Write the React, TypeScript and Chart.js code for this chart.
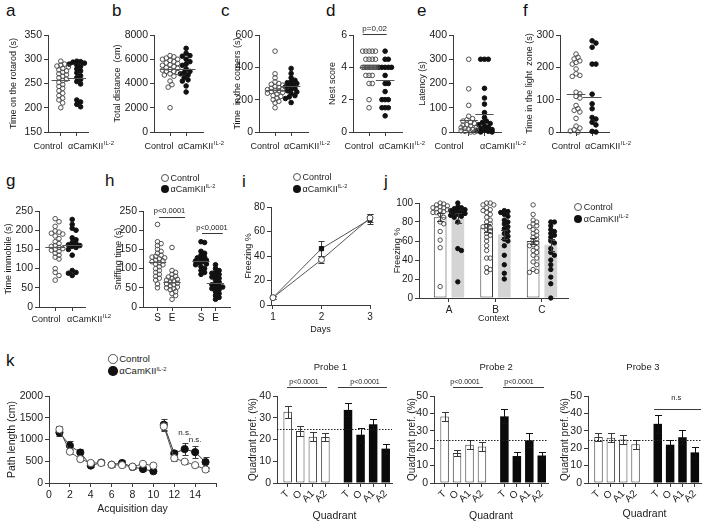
import React, { useEffect, useRef } from 'react';
import { Chart, registerables } from 'chart.js';
Chart.register(...registerables);

const FONT = "'Liberation Sans', Arial, Helvetica, sans-serif";
const AX = '#3a3a3a';
const TXT = '#1a1a1a';
const OPEN = '#505050';

// ---------- data ----------
const groupNames = ['Control', 'αCamKII'];
const koSup = 'IL-2';
const koSupG = 'IL2';

const rotarodControl = [296, 290, 288, 286, 284, 281, 278, 276, 273, 270, 268, 265, 262, 259, 256, 252, 248, 244, 240, 235, 230, 225, 220, 216, 210, 200];
const rotarodKO = [296, 295, 294, 292, 290, 288, 285, 280, 276, 272, 266, 262, 258, 254, 249, 216, 212, 207, 202];
const rotarodMeans = [258, 262];

const distControl = [6300, 6200, 6100, 6000, 6000, 5900, 5800, 5700, 5650, 5550, 5500, 5400, 5300, 5250, 5150, 5100, 5000, 5000, 4900, 4800, 4700, 4600, 4200, 3900, 3700, 2000];
const distKO = [6900, 6500, 6300, 6250, 6000, 5800, 5600, 5500, 5200, 5000, 4900, 4800, 4700, 4500, 4300, 4200, 3800, 3300];
const distMeans = [5200, 5200];

const cornersControl = [500, 360, 335, 310, 300, 295, 290, 280, 275, 270, 265, 262, 258, 255, 250, 245, 240, 235, 225, 220, 210, 200, 190, 180, 150];
const cornersKO = [393, 362, 335, 320, 310, 305, 300, 290, 285, 280, 270, 263, 255, 248, 238, 225, 217, 207, 182];
const cornersMeans = [262, 282];

const nestControl = [5, 5, 5, 5, 5, 4.5, 4.5, 4.5, 4.5, 4, 4, 4, 4, 4, 4, 4, 4, 4, 4, 3.5, 3.5, 3.5, 3, 3, 2, 1.5];
const nestKO = [5, 4.5, 4.5, 4, 4, 4, 4, 4, 3.5, 3, 3, 2.5, 2, 2, 2, 1.5, 1.5, 1.5, 1];
const nestMeans = [4.0, 3.2];

const latencyControl = [300, 178, 110, 65, 55, 50, 45, 40, 35, 30, 28, 25, 20, 18, 15, 12, 10, 8, 5, 3, 0, 0];
const latencyKO = [300, 300, 300, 180, 140, 115, 80, 60, 45, 40, 35, 30, 25, 20, 15, 10, 8, 5, 3, 0, 0];
const latencyMeans = [50, 76];

const lightControl = [241, 231, 226, 220, 215, 210, 195, 180, 175, 172, 123, 118, 110, 105, 82, 72, 67, 62, 42, 18, 12, 7, 3, 0];
const lightKO = [282, 275, 262, 210, 210, 117, 87, 72, 45, 40, 30, 22, 2, 0];
const lightMeans = [118, 108];

const immobileControl = [230, 222, 210, 198, 195, 192, 190, 185, 178, 170, 165, 160, 158, 155, 152, 150, 148, 145, 140, 135, 130, 125, 100, 90, 82, 70];
const immobileKO = [228, 215, 205, 200, 180, 175, 168, 165, 162, 160, 158, 155, 150, 135, 95, 90, 88, 82];
const immobileMeans = [155, 162];

const sniffLabels = ['S', 'E', 'S', 'E'];
const sniffControlS = [215, 170, 165, 160, 150, 145, 140, 135, 132, 130, 128, 125, 122, 120, 118, 115, 112, 110, 105, 100, 95, 90, 85, 80, 75, 70, 60, 50];
const sniffControlE = [155, 95, 90, 85, 80, 78, 75, 72, 70, 68, 65, 62, 60, 58, 55, 52, 50, 48, 45, 40, 35, 30, 20];
const sniffKOS = [170, 168, 145, 140, 135, 130, 128, 125, 122, 120, 118, 115, 112, 110, 105, 100, 95, 90, 85];
const sniffKOE = [110, 100, 95, 90, 88, 85, 80, 78, 75, 70, 65, 60, 58, 55, 52, 50, 48, 45, 40, 35, 30, 25, 20];
const sniffMeans = [118, 65, 120, 62];

const fearDays = [1, 2, 3];
const fearControl = [6, 37, 71];
const fearControlErr = [1, 3, 3];
const fearKO = [6, 46, 70];
const fearKOErr = [1, 6, 4];

const contexts = ['A', 'B', 'C'];
const ctxControlMean = [85, 74, 60];
const ctxControlErr = [4, 4, 3.5];
const ctxKOMean = [84, 67, 56];
const ctxKOErr = [5, 5, 6];
const ctxControlA = [100, 99, 98, 97, 96, 95, 95, 94, 93, 92, 91, 90, 90, 88, 85, 80, 78, 70, 61, 53, 12];
const ctxKOA = [100, 96, 95, 94, 93, 92, 92, 90, 90, 89, 88, 87, 86, 85, 80, 52, 50, 17];
const ctxControlB = [100, 100, 98, 98, 95, 93, 92, 90, 88, 85, 82, 80, 78, 76, 75, 74, 72, 70, 68, 66, 64, 60, 55, 50, 42, 42, 32, 30, 27];
const ctxKOB = [92, 91, 90, 88, 86, 82, 80, 78, 75, 73, 70, 68, 65, 62, 60, 55, 45, 35, 26, 20];
const ctxControlC = [98, 88, 82, 80, 78, 76, 75, 72, 70, 68, 66, 64, 62, 60, 58, 56, 55, 53, 50, 48, 45, 42, 38, 35, 30, 28, 27];
const ctxKOC = [80, 80, 76, 72, 70, 68, 66, 64, 60, 58, 52, 48, 45, 40, 35, 30, 22, 15, 0];

const acqDays = [1, 2, 3, 4, 5, 6, 7, 8, 9, 10, 11, 12, 13, 14, 15];
const acqBlocks = [[0, 5], [5, 10], [10, 15]];
const pathControl = [1230, 720, 550, 460, 460, 420, 410, 375, 440, 400, 1300, 570, 490, 410, 310];
const pathControlErr = [70, 60, 50, 40, 40, 40, 40, 40, 50, 40, 100, 60, 50, 40, 30];
const pathKO = [1160, 860, 700, 400, 470, 420, 460, 370, 320, 270, 1340, 680, 780, 710, 480];
const pathKOErr = [70, 110, 80, 40, 50, 50, 60, 40, 40, 30, 120, 80, 140, 130, 110];

const quadrants = ['T', 'O', 'A1', 'A2'];
const probe1Control = [32.8, 23.9, 21.3, 21.2];
const probe1ControlErr = [2.8, 2.5, 2.2, 2.0];
const probe1KO = [33.6, 22.2, 27.0, 15.8];
const probe1KOErr = [3.0, 3.2, 2.5, 2.0];
const probe2Control = [38.2, 17.2, 22.0, 21.0];
const probe2ControlErr = [2.5, 1.8, 2.5, 2.5];
const probe2KO = [38.3, 15.5, 24.5, 15.8];
const probe2KOErr = [4.0, 2.5, 4.0, 2.0];
const probe3Control = [26.5, 26.0, 25.0, 22.2];
const probe3ControlErr = [2.5, 2.5, 2.5, 2.5];
const probe3KO = [34.0, 22.0, 26.3, 17.6];
const probe3KOErr = [5.0, 3.0, 4.0, 3.0];

// ---------- helpers ----------
type Frame = { x0: number; x1: number; y0: number; y1: number; left: number; top: number; right: number; bottom: number };
type Ann = {
  lines?: { x0: number; x1: number; y0: number; y1: number; dash?: number[]; color?: string; width?: number }[];
  texts?: { x: number; y: number; text: string; size: number }[];
};

function swarm(values: number[], pxPerY: number, d: number, maxHalf: number): number[] {
  const idx = values.map((_, i) => i).sort((a, b) => values[b] - values[a]);
  const placed: { x: number; y: number }[] = [];
  const out = new Array(values.length).fill(0);
  const n = 2 * Math.ceil(maxHalf / (d / 2)) + 1;
  for (const i of idx) {
    const y = values[i] * pxPerY;
    let best = 0;
    let bestScore = -Infinity;
    for (let k = 0; k < n; k++) {
      const step = Math.ceil(k / 2) * d * 0.5;
      const cand = k === 0 ? 0 : k % 2 === 1 ? step : -step;
      if (Math.abs(cand) > maxHalf + 1e-6) continue;
      let minD = Infinity;
      for (const p of placed) minD = Math.min(minD, Math.hypot(p.x - cand, p.y - y));
      if (minD >= d * 0.98) {
        best = cand;
        break;
      }
      if (minD > bestScore) {
        bestScore = minD;
        best = cand;
      }
    }
    placed.push({ x: best, y });
    out[i] = best;
  }
  return out;
}

function drawSupText(ctx: any, cx: number, cy: number, main: string, sup: string, size: number) {
  const supSize = size * 0.65;
  ctx.font = `${size}px ${FONT}`;
  const w1 = ctx.measureText(main).width;
  ctx.font = `${supSize}px ${FONT}`;
  const w2 = sup ? ctx.measureText(sup).width + 0.5 : 0;
  const x = cx - (w1 + w2) / 2;
  ctx.textAlign = 'left';
  ctx.textBaseline = 'middle';
  ctx.fillStyle = TXT;
  ctx.font = `${size}px ${FONT}`;
  ctx.fillText(main, x, cy);
  if (sup) {
    ctx.font = `${supSize}px ${FONT}`;
    ctx.fillText(sup, x + w1 + 0.5, cy - size * 0.35);
  }
}

function catLabels(items: { dx: number; text: string; sup?: string }[], dy: number, size: number) {
  return {
    id: 'catlabels',
    afterDraw(chart: any) {
      const { ctx, chartArea } = chart;
      ctx.save();
      for (const it of items) drawSupText(ctx, chartArea.left + it.dx, chartArea.bottom + dy, it.text, it.sup || '', size);
      ctx.restore();
    },
  };
}

function annot(a: Ann) {
  return {
    id: 'annot',
    afterDatasetsDraw(chart: any) {
      const { ctx } = chart;
      const x = chart.scales.x;
      const y = chart.scales.y;
      ctx.save();
      for (const l of a.lines || []) {
        ctx.beginPath();
        ctx.setLineDash(l.dash || []);
        ctx.strokeStyle = l.color || AX;
        ctx.lineWidth = l.width || 1;
        ctx.moveTo(x.getPixelForValue(l.x0), Math.round(y.getPixelForValue(l.y0)) + 0.5);
        ctx.lineTo(x.getPixelForValue(l.x1), Math.round(y.getPixelForValue(l.y1)) + 0.5);
        ctx.stroke();
      }
      ctx.setLineDash([]);
      for (const t of a.texts || []) {
        ctx.font = `${t.size}px ${FONT}`;
        ctx.fillStyle = TXT;
        ctx.textAlign = 'center';
        ctx.textBaseline = 'middle';
        ctx.fillText(t.text, x.getPixelForValue(t.x), y.getPixelForValue(t.y));
      }
      ctx.restore();
    },
  };
}

function drawErr(chart: any, barPass: boolean) {
  const { ctx } = chart;
  const ys = chart.scales.y;
  chart.data.datasets.forEach((ds: any, i: number) => {
    if (!ds.errors) return;
    const isBar = (ds.type || chart.config.type) === 'bar';
    if (isBar !== barPass) return;
    const meta = chart.getDatasetMeta(i);
    ctx.save();
    ctx.strokeStyle = ds.errorColor || AX;
    ctx.lineWidth = 1;
    const cap = ds.errorCap || 3;
    meta.data.forEach((el: any, j: number) => {
      const raw = ds.data[j];
      const v = typeof raw === 'number' ? raw : raw.y;
      const e = ds.errors[j];
      const x = Math.round(el.x) + 0.5;
      const yt = Math.round(ys.getPixelForValue(v + e)) + 0.5;
      const yb = Math.round(ys.getPixelForValue(v - e)) + 0.5;
      ctx.beginPath();
      ctx.moveTo(x, yt);
      ctx.lineTo(x, yb);
      ctx.moveTo(x - cap, yt);
      ctx.lineTo(x + cap, yt);
      ctx.moveTo(x - cap, yb);
      ctx.lineTo(x + cap, yb);
      ctx.stroke();
    });
    ctx.restore();
  });
}

const errorBars = {
  id: 'errbars',
  beforeDatasetsDraw(chart: any) {
    drawErr(chart, false);
  },
  afterDatasetsDraw(chart: any) {
    drawErr(chart, true);
  },
};

function yScale(f: Frame, min: number, max: number, step: number, title: string, tsize: number, titleSize: number) {
  return {
    type: 'linear',
    min,
    max,
    ticks: { stepSize: step, color: TXT, font: { family: FONT, size: tsize }, padding: 2, callback: (v: any) => String(v) },
    grid: { drawOnChartArea: false, tickLength: 4, color: AX, tickColor: AX },
    border: { color: AX, width: 1 },
    title: { display: true, text: title, color: TXT, font: { family: FONT, size: titleSize }, padding: 0 },
    afterFit: (s: any) => {
      s.width = f.x0 - f.left;
    },
  };
}

function xScale(
  f: Frame,
  min: number,
  max: number,
  tickVals: number[],
  tickLabels: string[],
  tsize: number,
  opts: { title?: string; titleSize?: number; rot?: number; pad?: number; tickLen?: number } = {}
) {
  return {
    type: 'linear',
    min,
    max,
    offset: false,
    afterBuildTicks: (s: any) => {
      s.ticks = tickVals.map((v) => ({ value: v }));
    },
    ticks: {
      color: TXT,
      font: { family: FONT, size: tsize },
      padding: opts.pad ?? 2,
      autoSkip: false,
      maxRotation: opts.rot ?? 0,
      minRotation: opts.rot ?? 0,
      callback: (v: any) => {
        const k = tickVals.findIndex((t) => Math.abs(t - Number(v)) < 1e-6);
        return k >= 0 ? tickLabels[k] : '';
      },
    },
    grid: { drawOnChartArea: false, tickLength: opts.tickLen ?? 4, color: AX, tickColor: AX, offset: false },
    border: { color: AX, width: 1 },
    title: opts.title
      ? { display: true, text: opts.title, color: TXT, font: { family: FONT, size: opts.titleSize || 10 }, padding: 0 }
      : { display: false },
    afterFit: (s: any) => {
      s.height = f.bottom - f.y1;
    },
  };
}

function baseOptions(f: Frame) {
  return {
    responsive: false,
    animation: false,
    events: [],
    devicePixelRatio: 1,
    layout: { autoPadding: false, padding: { left: 0, top: f.y0 - f.top, right: f.right - f.x1, bottom: 0 } },
    plugins: { legend: { display: false }, tooltip: { enabled: false }, title: { display: false } },
  };
}

type Group = { values: number[]; x: number; filled: boolean };
function dotConfig(
  f: Frame,
  p: {
    ymin: number; ymax: number; step: number; title: string; xmin: number; xmax: number;
    groups: Group[]; means: number[]; meanHalf: number; tickVals: number[]; tickLabels: string[];
    r: number; d: number; maxHalf: number; tsize: number; xsize: number; titleSize: number; ann?: Ann; pad?: number;
    cats?: { dx: number; text: string; sup?: string }[]; catDy?: number; catSize?: number;
  }
) {
  const pxPerY = (f.y1 - f.y0) / (p.ymax - p.ymin);
  const pxPerX = (f.x1 - f.x0) / (p.xmax - p.xmin);
  const datasets = p.groups.map((g) => {
    const off = swarm(g.values, pxPerY, p.d, p.maxHalf);
    return {
      data: g.values.map((v, i) => ({ x: g.x + off[i] / pxPerX, y: v })),
      pointRadius: p.r,
      pointBorderWidth: 1,
      pointBackgroundColor: g.filled ? '#111' : 'rgba(255,255,255,0)',
      pointBorderColor: g.filled ? '#111' : OPEN,
      clip: false,
    };
  });
  const meanLines = p.groups.map((g, i) => ({
    x0: g.x - p.meanHalf, x1: g.x + p.meanHalf, y0: p.means[i], y1: p.means[i], color: '#555',
  }));
  const ann: Ann = { lines: [...meanLines, ...((p.ann && p.ann.lines) || [])], texts: (p.ann && p.ann.texts) || [] };
  const plugins: any[] = [annot(ann)];
  if (p.cats) plugins.push(catLabels(p.cats, p.catDy || 14, p.catSize || 9));
  return {
    type: 'scatter',
    data: { datasets },
    options: {
      ...baseOptions(f),
      scales: {
        x: xScale(f, p.xmin, p.xmax, p.tickVals, p.tickLabels, p.xsize, { pad: p.pad ?? 4 }),
        y: yScale(f, p.ymin, p.ymax, p.step, p.title, p.tsize, p.titleSize),
      },
    },
    plugins,
  };
}

function probeConfig(f: Frame, ctl: number[], ctlErr: number[], ko: number[], koErr: number[], ymax: number, ann: Ann) {
  const ctlX = quadrants.map((_, i) => i);
  const koX = quadrants.map((_, i) => i + 4.8);
  return {
    type: 'bar',
    data: {
      datasets: [
        {
          data: ctl.map((v, i) => ({ x: ctlX[i], y: v })),
          backgroundColor: '#ffffff', borderColor: AX, borderWidth: 1, borderSkipped: false,
          grouped: false, maxBarThickness: 8.5, errors: ctlErr, errorCap: 3.5,
        },
        {
          data: ko.map((v, i) => ({ x: koX[i], y: v })),
          backgroundColor: '#0a0a0a', borderColor: '#0a0a0a', borderWidth: 0,
          grouped: false, maxBarThickness: 8.5, errors: koErr, errorCap: 3.5, errorColor: '#111',
        },
      ],
    },
    options: {
      ...baseOptions(f),
      scales: {
        x: xScale(f, -0.85, 8.3, [...ctlX, ...koX], [...quadrants, ...quadrants], 10, { title: 'Quadrant', titleSize: 10.5, rot: 45, pad: 1 }),
        y: yScale(f, 0, ymax, 10, 'Quadrant pref. (%)', 10.5, 10),
      },
    },
    plugins: [errorBars, annot(ann)],
  };
}

// ---------- frames ----------
const FA: Frame = { x0: 48, x1: 88, y0: 35, y1: 132, left: 8, top: 22, right: 114, bottom: 158 };
const FB: Frame = { x0: 154, x1: 203, y0: 35, y1: 132, left: 112, top: 22, right: 228, bottom: 158 };
const FC: Frame = { x0: 259, x1: 308, y0: 35, y1: 132, left: 232, top: 22, right: 334, bottom: 158 };
const FD: Frame = { x0: 353, x1: 402, y0: 35, y1: 132, left: 327, top: 22, right: 430, bottom: 158 };
const FE: Frame = { x0: 453, x1: 501, y0: 35, y1: 132, left: 417, top: 22, right: 530, bottom: 158 };
const FF: Frame = { x0: 560, x1: 609, y0: 35, y1: 132, left: 524, top: 22, right: 635, bottom: 158 };
const FG: Frame = { x0: 39, x1: 85, y0: 211, y1: 307, left: 3, top: 198, right: 112, bottom: 326 };
const FH: Frame = { x0: 143, x1: 230, y0: 211, y1: 307, left: 113, top: 198, right: 240, bottom: 322 };
const FI: Frame = { x0: 271, x1: 370, y0: 207, y1: 305, left: 243, top: 197, right: 380, bottom: 335 };
const FJ: Frame = { x0: 419, x1: 568, y0: 203, y1: 298, left: 392, top: 193, right: 578, bottom: 324 };
const FK: Frame = { x0: 49, x1: 216, y0: 396, y1: 483, left: 6, top: 380, right: 226, bottom: 515 };
const FP1: Frame = { x0: 277, x1: 392, y0: 396, y1: 483, left: 247, top: 358, right: 400, bottom: 522 };
const FP2: Frame = { x0: 434, x1: 548, y0: 396, y1: 483, left: 406, top: 358, right: 556, bottom: 522 };
const FP3: Frame = { x0: 588, x1: 701, y0: 396, y1: 483, left: 559, top: 358, right: 706, bottom: 520 };

// ---------- chart configs ----------
const catPair = (dxC: number, dxK: number, sup: string) => [
  { dx: dxC, text: groupNames[0] },
  { dx: dxK, text: groupNames[1], sup },
];

const row1Common = {
  xmin: 0, xmax: 3.05, meanHalf: 0.58, tickVals: [1, 2], tickLabels: ['', ''], r: 2.3, d: 3.8, maxHalf: 9,
  tsize: 10.5, xsize: 9, titleSize: 9, catDy: 14.5, catSize: 9,
};

function cfgA() {
  return dotConfig(FA, { ...row1Common, xmin: 0.2, xmax: 2.7, ymin: 150, ymax: 350, step: 50, title: 'Time on the rotarod (s)',
    cats: catPair(0, 43, koSup),
    groups: [{ values: rotarodControl, x: 1, filled: false }, { values: rotarodKO, x: 2, filled: true }], means: rotarodMeans });
}
function cfgB() {
  return dotConfig(FB, { ...row1Common, ymin: 0, ymax: 8000, step: 2000, title: 'Total distance  (cm)',
    cats: catPair(5, 47, koSup),
    groups: [{ values: distControl, x: 1, filled: false }, { values: distKO, x: 2, filled: true }], means: distMeans });
}
function cfgC() {
  return dotConfig(FC, { ...row1Common, ymin: 0, ymax: 600, step: 200, title: 'Time  in the corners (s)',
    cats: catPair(6, 48, koSup),
    groups: [{ values: cornersControl, x: 1, filled: false }, { values: cornersKO, x: 2, filled: true }], means: cornersMeans });
}
function cfgD() {
  return dotConfig(FD, { ...row1Common, d: 3.2, ymin: 0, ymax: 6, step: 2, title: 'Nest score',
    cats: catPair(6, 49, koSup),
    groups: [{ values: nestControl, x: 1, filled: false }, { values: nestKO, x: 2, filled: true }], means: nestMeans,
    ann: { lines: [{ x0: 0.6, x1: 2.1, y0: 6.06, y1: 6.06 }], texts: [{ x: 1.35, y: 6.4, text: 'p=0,02', size: 8 }] } });
}
function cfgE() {
  return dotConfig(FE, { ...row1Common, ymin: 0, ymax: 400, step: 100, title: 'Latency (s)',
    cats: catPair(-4, 50, koSup),
    groups: [{ values: latencyControl, x: 1, filled: false }, { values: latencyKO, x: 2, filled: true }], means: latencyMeans });
}
function cfgF() {
  return dotConfig(FF, { ...row1Common, ymin: 0, ymax: 300, step: 100, title: 'Time in the light  zone (s)',
    cats: catPair(6, 48, koSup),
    groups: [{ values: lightControl, x: 1, filled: false }, { values: lightKO, x: 2, filled: true }], means: lightMeans });
}
function cfgG() {
  return dotConfig(FG, { ...row1Common, xmin: 0.05, xmax: 2.75, ymin: 0, ymax: 250, step: 50, title: 'Time immobile (s)',
    cats: catPair(7, 50, koSupG), catDy: 12.5,
    groups: [{ values: immobileControl, x: 1, filled: false }, { values: immobileKO, x: 2, filled: true }], means: immobileMeans });
}
function cfgH() {
  return dotConfig(FH, { ...row1Common, xmin: 0, xmax: 6, ymin: 0, ymax: 250, step: 50, title: 'Sniffing time (s)',
    tickVals: [1, 2, 4, 5], tickLabels: sniffLabels, xsize: 10, pad: 1, meanHalf: 0.6, r: 2.3, d: 3.6, maxHalf: 8,
    groups: [
      { values: sniffControlS, x: 1, filled: false },
      { values: sniffControlE, x: 2, filled: false },
      { values: sniffKOS, x: 4, filled: true },
      { values: sniffKOE, x: 5, filled: true },
    ],
    means: sniffMeans,
    ann: {
      lines: [{ x0: 1.1, x1: 2.9, y0: 234, y1: 234 }, { x0: 4.07, x1: 5.5, y0: 193, y1: 193 }],
      texts: [{ x: 1.83, y: 251, text: 'p<0,0001', size: 7.5 }, { x: 4.76, y: 205, text: 'p<0,0001', size: 7.5 }],
    } });
}

function cfgI() {
  return {
    type: 'scatter',
    data: {
      datasets: [
        {
          data: fearDays.map((d, i) => ({ x: d, y: fearControl[i] })), showLine: true, borderColor: '#555', borderWidth: 1,
          pointRadius: 3, pointBackgroundColor: '#fff', pointBorderColor: '#444', pointBorderWidth: 1, errors: fearControlErr, errorCap: 3, clip: false,
        },
        {
          data: fearDays.map((d, i) => ({ x: d, y: fearKO[i] })), showLine: true, borderColor: '#555', borderWidth: 1,
          pointRadius: 3, pointStyle: 'rect', pointBackgroundColor: '#111', pointBorderColor: '#111', pointBorderWidth: 1, errors: fearKOErr, errorCap: 3, clip: false,
        },
      ],
    },
    options: {
      ...baseOptions(FI),
      scales: {
        x: xScale(FI, 0.96, 3, fearDays, fearDays.map(String), 10, { title: 'Days', titleSize: 9 }),
        y: yScale(FI, 0, 80, 20, 'Freezing %', 10, 9),
      },
    },
    plugins: [errorBars],
  };
}

function cfgJ() {
  const off = 0.19;
  const pxPerY = (FJ.y1 - FJ.y0) / 100;
  const pxPerX = (FJ.x1 - FJ.x0) / (3.56 - 0.355);
  const dots = (vals: number[], cx: number) => {
    const o = swarm(vals, pxPerY, 3.6, 8);
    return vals.map((v, i) => ({ x: cx + o[i] / pxPerX, y: v }));
  };
  const ctlDots = [ctxControlA, ctxControlB, ctxControlC].flatMap((vals, k) => dots(vals, k + 1 - off));
  const koDots = [ctxKOA, ctxKOB, ctxKOC].flatMap((vals, k) => dots(vals, k + 1 + off));
  return {
    type: 'bar',
    data: {
      datasets: [
        { type: 'scatter', data: ctlDots, pointRadius: 2.2, pointBorderWidth: 1, pointBackgroundColor: 'rgba(255,255,255,0)', pointBorderColor: OPEN, order: 0, clip: false },
        { type: 'scatter', data: koDots, pointRadius: 2.2, pointBorderWidth: 1, pointBackgroundColor: '#111', pointBorderColor: '#111', order: 0, clip: false },
        {
          data: ctxControlMean.map((v, k) => ({ x: k + 1 - off, y: v })), backgroundColor: '#ffffff', borderColor: AX, borderWidth: 1,
          borderSkipped: false, grouped: false, maxBarThickness: 17, order: 1, errors: ctxControlErr, errorCap: 3.5,
        },
        {
          data: ctxKOMean.map((v, k) => ({ x: k + 1 + off, y: v })), backgroundColor: '#d4d4d4', borderWidth: 0,
          grouped: false, maxBarThickness: 17, order: 1, errors: ctxKOErr, errorCap: 3.5,
        },
      ],
    },
    options: {
      ...baseOptions(FJ),
      scales: {
        x: xScale(FJ, 0.355, 3.56, [1, 2, 3], contexts, 10, { title: 'Context', titleSize: 9 }),
        y: yScale(FJ, 0, 100, 20, 'Freezing %', 10, 9),
      },
    },
    plugins: [errorBars],
  };
}

function cfgK() {
  const datasets: any[] = [];
  acqBlocks.forEach(([s, e]) => {
    datasets.push({
      data: acqDays.slice(s, e).map((d, i) => ({ x: d, y: pathControl[s + i] })), errors: pathControlErr.slice(s, e),
      showLine: true, borderColor: '#555', borderWidth: 1, pointRadius: 3.6, pointBackgroundColor: '#fff', pointBorderColor: '#555', pointBorderWidth: 1, errorCap: 3, clip: false,
    });
    datasets.push({
      data: acqDays.slice(s, e).map((d, i) => ({ x: d, y: pathKO[s + i] })), errors: pathKOErr.slice(s, e),
      showLine: true, borderColor: '#333', borderWidth: 1, pointRadius: 3.6, pointBackgroundColor: '#111', pointBorderColor: '#111', pointBorderWidth: 1, errorCap: 3, clip: false,
    });
  });
  const kTicks = [0, 2, 4, 6, 8, 10, 12, 14, 16];
  return {
    type: 'scatter',
    data: { datasets },
    options: {
      ...baseOptions(FK),
      scales: {
        x: xScale(FK, 0, 16, kTicks, kTicks.map((t) => (t === 16 ? '' : String(t))), 10.5, { title: 'Acquisition day', titleSize: 10.5 }),
        y: yScale(FK, 0, 2000, 500, 'Path length (cm)', 10.5, 10.5),
      },
    },
    plugins: [errorBars, annot({ texts: [{ x: 13, y: 1150, text: 'n.s.', size: 8 }, { x: 14, y: 990, text: 'n.s.', size: 8 }] })],
  };
}

const dotted = (xmax: number) => ({ x0: -0.85, x1: xmax, y0: 25, y1: 25, dash: [1.5, 1.5], color: '#222' });

function cfgP1() {
  return probeConfig(FP1, probe1Control, probe1ControlErr, probe1KO, probe1KOErr, 40, {
    lines: [dotted(8.3), { x0: -0.05, x1: 3.13, y0: 44.1, y1: 44.1 }, { x0: 4.0, x1: 7.9, y0: 44.1, y1: 44.1 }],
    texts: [
      { x: 3.4, y: 53.3, text: 'Probe 1', size: 9.5 },
      { x: 1.3, y: 46.6, text: 'p<0.0001', size: 7 },
      { x: 6.15, y: 46.6, text: 'p<0.0001', size: 7 },
    ],
  });
}
function cfgP2() {
  return probeConfig(FP2, probe2Control, probe2ControlErr, probe2KO, probe2KOErr, 50, {
    lines: [dotted(8.3), { x0: 0.67, x1: 3.08, y0: 55.2, y1: 55.2 }, { x0: 4.69, x1: 7.98, y0: 55.2, y1: 55.2 }],
    texts: [
      { x: 4.13, y: 66.7, text: 'Probe 2', size: 9.5 },
      { x: 1.64, y: 58.2, text: 'p<0.0001', size: 7 },
      { x: 5.97, y: 58.2, text: 'p<0.0001', size: 7 },
    ],
  });
}
function cfgP3() {
  return probeConfig(FP3, probe3Control, probe3ControlErr, probe3KO, probe3KOErr, 50, {
    lines: [dotted(8.3), { x0: 4.5, x1: 8.3, y0: 42.5, y1: 42.5 }],
    texts: [
      { x: 3.6, y: 66.7, text: 'Probe 3', size: 9.5 },
      { x: 6.3, y: 49, text: 'n.s', size: 7.5 },
    ],
  });
}

// ---------- components ----------
function ChartBox({ frame, make }: { frame: Frame; make: () => any }) {
  const ref = useRef<HTMLCanvasElement>(null);
  useEffect(() => {
    const c = new Chart(ref.current as HTMLCanvasElement, make());
    return () => c.destroy();
  }, []);
  const w = frame.right - frame.left;
  const h = frame.bottom - frame.top;
  return (
    <canvas
      ref={ref}
      width={w}
      height={h}
      style={{ position: 'absolute', left: frame.left, top: frame.top, width: w, height: h }}
    />
  );
}

function Letter({ ch, x, y }: { ch: string; x: number; y: number }) {
  return (
    <div style={{ position: 'absolute', left: x, top: y, font: `17px ${FONT}`, lineHeight: '17px', color: '#111' }}>{ch}</div>
  );
}

function LegendRow({ cx, cy, d, filled, size, children }: { cx: number; cy: number; d: number; filled: boolean; size: number; children: any }) {
  return (
    <>
      <div
        style={{
          position: 'absolute', left: cx - d / 2, top: cy - d / 2, width: d, height: d, borderRadius: '50%', boxSizing: 'border-box',
          border: filled ? 'none' : `1px solid ${OPEN}`, background: filled ? '#111' : '#fff',
        }}
      />
      <div
        style={{
          position: 'absolute', left: cx + d / 2 + 1.5, top: cy - size * 0.6, font: `${size}px ${FONT}`, lineHeight: `${size * 1.2}px`,
          color: TXT, whiteSpace: 'nowrap',
        }}
      >
        {children}
      </div>
    </>
  );
}

function KOText({ size }: { size: number }) {
  return (
    <>
      {groupNames[1]}
      <span style={{ fontSize: size * 0.62, position: 'relative', top: -size * 0.38 }}>{koSup}</span>
    </>
  );
}

function Legend({ cx, cy, gap, d, size }: { cx: number; cy: number; gap: number; d: number; size: number }) {
  return (
    <>
      <LegendRow cx={cx} cy={cy} d={d} filled={false} size={size}>{groupNames[0]}</LegendRow>
      <LegendRow cx={cx} cy={cy + gap} d={d} filled={true} size={size}>
        <KOText size={size} />
      </LegendRow>
    </>
  );
}

export default function App() {
  return (
    <div style={{ position: 'absolute', left: 0, top: 0, width: 706, height: 524, background: '#fff', overflow: 'hidden' }}>
      <ChartBox frame={FA} make={cfgA} />
      <ChartBox frame={FB} make={cfgB} />
      <ChartBox frame={FC} make={cfgC} />
      <ChartBox frame={FD} make={cfgD} />
      <ChartBox frame={FE} make={cfgE} />
      <ChartBox frame={FF} make={cfgF} />
      <ChartBox frame={FG} make={cfgG} />
      <ChartBox frame={FH} make={cfgH} />
      <ChartBox frame={FI} make={cfgI} />
      <ChartBox frame={FJ} make={cfgJ} />
      <ChartBox frame={FK} make={cfgK} />
      <ChartBox frame={FP1} make={cfgP1} />
      <ChartBox frame={FP2} make={cfgP2} />
      <ChartBox frame={FP3} make={cfgP3} />

      <Letter ch="a" x={6} y={2} />
      <Letter ch="b" x={112} y={2} />
      <Letter ch="c" x={221} y={2} />
      <Letter ch="d" x={326} y={2} />
      <Letter ch="e" x={417} y={2} />
      <Letter ch="f" x={523} y={2} />
      <Letter ch="g" x={6} y={172} />
      <Letter ch="h" x={105} y={172} />
      <Letter ch="i" x={242} y={173} />
      <Letter ch="j" x={384} y={173} />
      <Letter ch="k" x={6} y={352} />

      <Legend cx={165} cy={178} gap={11} d={8} size={9} />
      <Legend cx={297} cy={177} gap={12} d={8} size={9} />
      <Legend cx={578} cy={207} gap={12} d={8.5} size={9} />
      <Legend cx={113} cy={359} gap={12} d={9.5} size={9.5} />
    </div>
  );
}
